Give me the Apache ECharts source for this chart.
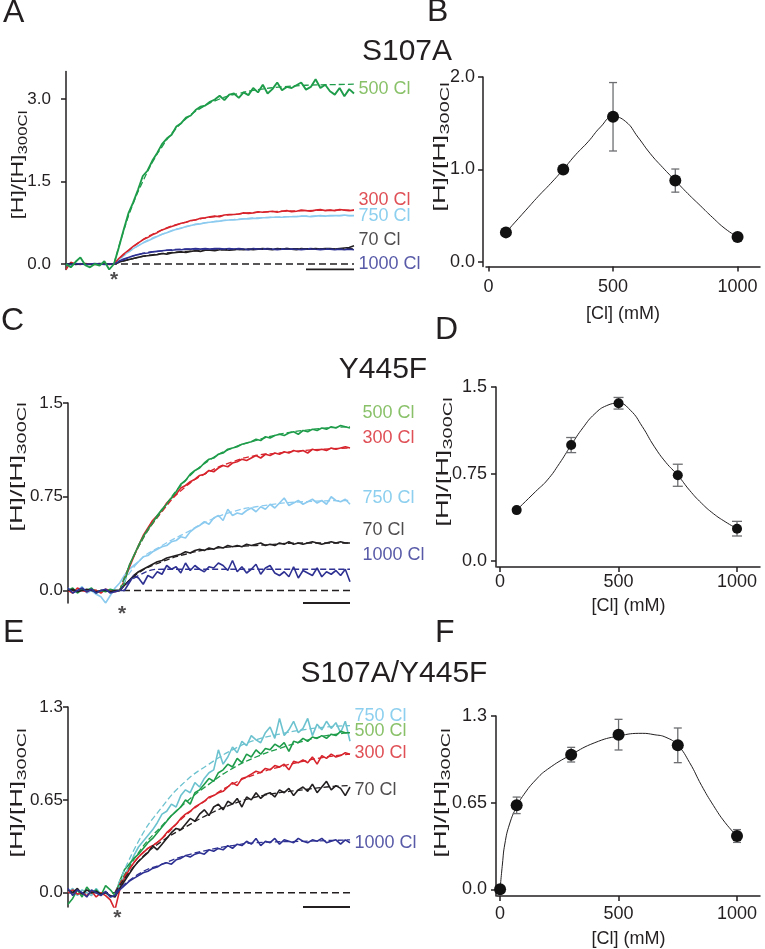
<!DOCTYPE html>
<html><head><meta charset="utf-8">
<script src="https://cdn.jsdelivr.net/npm/echarts@6/dist/echarts.min.js"></script>
<style>html,body{margin:0;padding:0;background:#fff}#c{width:765px;height:949px}</style>
</head><body><div id="c"></div>
<script>
// ---------- Panel A (S107A) traces, one sample per time unit, t = 0..60 ----------
const A500 = [0.0,-0.06,0.04,0.12,-0.02,-0.06,0.0,-0.03,0.05,-0.1,0.0,
 0.3,0.62,0.92,1.12,1.35,1.6,1.7,1.88,2.02,2.18,2.28,2.35,2.5,2.56,2.66,2.7,2.8,2.86,2.88,2.95,
 2.99,3.06,2.98,3.08,3.1,3.02,3.12,3.07,3.2,3.12,3.26,3.1,3.18,3.3,3.16,3.22,3.2,3.25,3.3,3.17,
 3.22,3.36,3.2,3.26,3.14,3.08,3.2,3.05,3.18,3.1];
const A300 = [-0.1,0.03,0.0,-0.01,0.01,0.0,-0.01,0.0,0.01,-0.01,0.0,
 0.1,0.18,0.25,0.32,0.38,0.44,0.48,0.53,0.57,0.62,0.65,0.68,0.71,0.74,0.76,0.79,0.8,0.83,0.84,0.86,
 0.87,0.86,0.89,0.9,0.9,0.91,0.93,0.92,0.93,0.95,0.94,0.95,0.96,0.94,0.96,0.97,0.95,0.96,0.98,0.97,
 0.96,0.98,0.99,0.97,0.98,0.97,0.99,0.98,0.97,0.98];
const A750 = [0.0,-0.02,0.0,0.01,-0.01,0.0,0.0,-0.01,0.01,0.0,0.0,
 0.08,0.15,0.22,0.28,0.33,0.38,0.42,0.46,0.5,0.54,0.57,0.6,0.63,0.65,0.68,0.7,0.72,0.73,0.75,0.76,
 0.77,0.78,0.79,0.8,0.8,0.81,0.82,0.82,0.83,0.83,0.84,0.84,0.85,0.85,0.85,0.86,0.86,0.86,0.87,0.87,
 0.86,0.87,0.88,0.87,0.88,0.88,0.88,0.89,0.88,0.88];
const A70 = [0.0,0.01,-0.01,0.0,0.0,-0.01,0.0,0.01,0.0,0.0,0.0,
 0.03,0.06,0.08,0.1,0.12,0.14,0.15,0.16,0.17,0.19,0.18,0.2,0.21,0.22,0.21,0.23,0.24,0.23,0.25,0.25,
 0.24,0.26,0.26,0.25,0.26,0.27,0.26,0.27,0.26,0.27,0.28,0.27,0.26,0.28,0.27,0.28,0.27,0.26,0.28,0.27,
 0.27,0.28,0.27,0.28,0.28,0.27,0.28,0.29,0.3,0.33];
const A1000 = [0.0,-0.01,0.01,0.0,-0.01,0.0,0.01,0.0,-0.01,0.0,0.0,
 0.05,0.09,0.12,0.15,0.17,0.19,0.2,0.22,0.23,0.24,0.25,0.25,0.26,0.26,0.27,0.27,0.28,0.27,0.28,0.27,
 0.28,0.28,0.27,0.28,0.27,0.28,0.27,0.26,0.28,0.27,0.27,0.28,0.27,0.26,0.27,0.28,0.27,0.27,0.26,0.27,
 0.28,0.27,0.26,0.27,0.27,0.26,0.27,0.26,0.27,0.26];
const A500fit = [[10,0],[12,0.6],[14,1.1],[16,1.5],[18,1.85],[20,2.13],[22,2.37],[25,2.64],[28,2.83],[32,3.0],[36,3.1],[40,3.17],[45,3.22],[50,3.25],[55,3.26],[60,3.27]];
const A300fit = [[10,0],[15,0.38],[20,0.62],[25,0.76],[30,0.85],[35,0.9],[40,0.94],[50,0.97],[60,0.98]];
const A750fit = [[10,0],[15,0.33],[20,0.54],[25,0.68],[30,0.76],[35,0.81],[40,0.84],[50,0.87],[60,0.88]];
const A70fit = [[10,0],[15,0.12],[20,0.19],[25,0.23],[30,0.25],[40,0.27],[50,0.28],[60,0.28]];
const A1000fit = [[10,0],[15,0.17],[20,0.24],[25,0.27],[30,0.27],[60,0.27]];

// ---------- Panel C (Y445F) traces ----------
const C500 = [0.0,0.02,-0.02,0.01,0.0,0.02,-0.02,0.0,-0.01,0.01,0.0,0.0,
 0.06,0.2,0.28,0.36,0.43,0.49,0.54,0.6,0.65,0.69,0.74,0.79,0.85,0.88,0.93,0.96,0.98,1.02,1.05,1.06,
 1.09,1.1,1.13,1.14,1.15,1.17,1.18,1.19,1.21,1.2,1.23,1.22,1.24,1.25,1.24,1.26,1.27,1.25,1.28,1.27,
 1.29,1.28,1.3,1.29,1.31,1.3,1.32,1.31,1.3];
const C300 = [0.0,-0.02,0.02,0.0,-0.01,0.01,0.0,-0.02,0.01,0.0,-0.01,0.0,
 0.08,0.18,0.27,0.36,0.44,0.5,0.56,0.6,0.64,0.7,0.74,0.77,0.82,0.84,0.87,0.89,0.92,0.93,0.96,0.95,
 0.98,1.0,0.99,1.02,1.03,1.05,1.04,1.06,1.08,1.06,1.09,1.08,1.1,1.09,1.11,1.1,1.12,1.11,1.12,1.1,
 1.13,1.12,1.13,1.12,1.14,1.13,1.14,1.15,1.14];
const C750 = [0.02,-0.02,0.0,0.03,-0.02,0.0,-0.03,-0.05,-0.1,-0.04,0.02,0.06,
 0.12,0.17,0.2,0.23,0.27,0.28,0.31,0.33,0.35,0.36,0.39,0.4,0.43,0.42,0.47,0.5,0.52,0.55,0.53,0.58,
 0.6,0.56,0.65,0.6,0.62,0.61,0.64,0.66,0.63,0.67,0.65,0.69,0.66,0.7,0.74,0.68,0.7,0.72,0.69,0.71,
 0.73,0.7,0.72,0.69,0.75,0.72,0.71,0.73,0.69];
const C70 = [0.0,0.01,-0.01,0.0,0.01,0.0,-0.01,0.0,0.0,-0.01,0.0,0.0,
 0.04,0.08,0.12,0.15,0.17,0.19,0.21,0.23,0.24,0.26,0.27,0.28,0.29,0.31,0.3,0.32,0.33,0.32,0.34,0.33,
 0.35,0.34,0.36,0.35,0.36,0.35,0.37,0.36,0.37,0.38,0.36,0.37,0.36,0.38,0.37,0.39,0.37,0.38,0.37,0.38,
 0.39,0.38,0.37,0.38,0.39,0.38,0.39,0.38,0.38];
const C1000 = [0.02,-0.02,0.0,0.02,-0.01,0.01,-0.02,0.0,0.01,-0.02,-0.01,0.0,
 0.0,0.06,0.12,0.1,0.05,0.12,0.1,0.15,0.13,0.2,0.17,0.19,0.14,0.22,0.16,0.2,0.17,0.15,0.19,0.18,
 0.22,0.2,0.16,0.24,0.15,0.19,0.14,0.17,0.21,0.13,0.18,0.2,0.14,0.12,0.15,0.11,0.19,0.1,0.16,0.14,
 0.12,0.18,0.11,0.15,0.13,0.16,0.12,0.17,0.07];
const C500fit = [[11,0],[15,0.35],[20,0.64],[25,0.88],[30,1.04],[35,1.14],[40,1.2],[45,1.25],[50,1.28],[55,1.3],[60,1.31]];
const C300fit = [[11,0],[15,0.35],[20,0.63],[25,0.83],[30,0.95],[35,1.03],[40,1.08],[45,1.1],[50,1.12],[60,1.14]];
const C750fit = [[11,0],[15,0.23],[20,0.36],[25,0.46],[30,0.56],[35,0.63],[40,0.67],[50,0.71],[60,0.72]];
const C70fit = [[11,0],[15,0.14],[20,0.23],[25,0.29],[30,0.33],[35,0.35],[40,0.36],[50,0.38],[60,0.38]];
const C1000fit = [[11,0],[15,0.12],[20,0.17],[25,0.17],[60,0.17]];

// ---------- Panel E (S107A/Y445F) traces ----------
const E750 = [0.0,0.03,-0.02,0.02,0.0,-0.02,0.03,-0.01,0.0,-0.03,-0.02,
 0.05,0.12,0.18,0.26,0.32,0.36,0.4,0.44,0.49,0.55,0.57,0.62,0.6,0.68,0.72,0.7,0.77,0.74,0.8,0.84,
 0.86,1.0,0.9,0.95,1.02,0.98,1.06,1.03,1.1,1.07,1.05,1.12,1.16,1.08,1.22,1.1,1.14,1.2,1.12,1.15,
 1.22,1.1,1.18,1.14,1.2,1.15,1.19,1.12,1.2,1.06];
const E500 = [-0.08,-0.04,0.02,-0.03,0.04,0.0,0.02,-0.02,0.05,0.02,-0.02,
 0.08,0.16,0.2,0.24,0.27,0.31,0.35,0.38,0.42,0.46,0.5,0.54,0.57,0.6,0.65,0.62,0.7,0.72,0.76,0.8,
 0.78,0.84,0.86,0.9,0.88,0.94,0.91,0.97,0.95,1.0,0.97,1.01,1.0,1.04,1.02,1.05,0.99,1.06,1.05,1.08,
 1.06,1.09,1.08,1.1,1.08,1.11,1.1,1.13,1.12,1.12];
const E300 = [0.0,0.02,-0.01,0.0,-0.02,0.01,-0.03,0.0,-0.02,-0.05,-0.12,
 0.02,0.1,0.16,0.21,0.25,0.28,0.31,0.33,0.35,0.38,0.42,0.45,0.48,0.52,0.55,0.57,0.6,0.62,0.64,0.67,
 0.68,0.7,0.71,0.74,0.77,0.75,0.8,0.81,0.83,0.85,0.84,0.87,0.86,0.89,0.88,0.9,0.86,0.92,0.91,0.93,
 0.91,0.95,0.9,0.96,0.94,0.97,0.95,0.96,0.98,0.97];
const E70 = [0.02,0.0,0.03,-0.01,0.02,0.0,0.01,-0.01,0.0,-0.02,-0.03,
 0.03,0.08,0.13,0.18,0.22,0.25,0.28,0.33,0.3,0.34,0.38,0.42,0.45,0.44,0.48,0.52,0.5,0.55,0.58,0.54,
 0.6,0.62,0.58,0.64,0.62,0.66,0.6,0.67,0.65,0.7,0.66,0.69,0.7,0.67,0.72,0.7,0.73,0.68,0.72,0.74,
 0.71,0.76,0.7,0.74,0.78,0.72,0.75,0.73,0.68,0.74];
const E1000 = [0.03,-0.02,0.02,0.0,-0.03,0.02,0.0,-0.02,0.01,-0.03,-0.02,
 0.02,0.05,0.08,0.1,0.12,0.14,0.15,0.17,0.18,0.2,0.21,0.2,0.23,0.24,0.26,0.25,0.27,0.28,0.27,0.3,
 0.29,0.31,0.3,0.33,0.31,0.34,0.33,0.36,0.34,0.38,0.33,0.36,0.35,0.38,0.34,0.37,0.36,0.35,0.38,0.36,
 0.35,0.37,0.36,0.38,0.35,0.36,0.37,0.34,0.37,0.35];
const E750fit = [[10,0],[15,0.36],[20,0.6],[25,0.78],[30,0.9],[35,1.0],[40,1.07],[45,1.11],[50,1.14],[55,1.16],[60,1.17]];
const E500fit = [[10,0],[15,0.28],[20,0.47],[25,0.63],[30,0.76],[35,0.87],[40,0.95],[45,1.01],[50,1.06],[55,1.1],[60,1.12]];
const E300fit = [[10,0],[15,0.25],[20,0.38],[25,0.54],[30,0.66],[35,0.76],[40,0.83],[45,0.88],[50,0.92],[55,0.95],[60,0.97]];
const E70fit = [[10,0],[15,0.22],[20,0.36],[25,0.46],[30,0.55],[35,0.62],[40,0.67],[45,0.7],[50,0.72],[55,0.74],[60,0.75]];
const E1000fit = [[10,0],[15,0.13],[20,0.2],[25,0.26],[30,0.3],[35,0.33],[40,0.35],[50,0.36],[60,0.37]];

// trace labels
const labelsAC = ['500 Cl','300 Cl','750 Cl','70 Cl','1000 Cl'];
const labelsE = ['750 Cl','500 Cl','300 Cl','70 Cl','1000 Cl'];
const titles = ['S107A','Y445F','S107A/Y445F'];
const panelLetters = ['A','B','C','D','E','F'];

// stimulus marker time and scale bar span (time units)
const starT = [10, 11.5, 10.5];
const scaleBar = [50, 60];

// ---------- Dose-response panels ----------
const clB = [70,300,500,750,1000];
const B_mean = [0.32,1.0,1.57,0.88,0.27];
const B_err = [0,0,0.37,0.125,0];
const B_fitX = [70,150,200,250,300,350,400,450,500,550,600,650,700,750,800,850,900,950,1000];
const B_fitY = [0.32,0.56,0.71,0.85,1.0,1.16,1.3,1.46,1.57,1.52,1.35,1.17,1.02,0.88,0.74,0.61,0.48,0.36,0.27];

const clD = [70,300,500,750,1000];
const D_mean = [0.44,1.0,1.36,0.74,0.28];
const D_err = [0,0.065,0.05,0.095,0.063];
const D_fitX = [70,150,200,250,300,350,400,450,500,550,600,650,700,750,800,850,900,950,1000];
const D_fitY = [0.44,0.6,0.7,0.84,1.0,1.15,1.27,1.34,1.36,1.3,1.16,0.99,0.85,0.74,0.61,0.5,0.41,0.34,0.28];

const clF = [0,70,300,500,750,1000];
const F_mean = [0,0.63,1.01,1.16,1.08,0.4];
const F_err = [0,0.062,0.055,0.115,0.13,0.048];
const F_fitX = [0,10,20,40,70,100,150,200,300,400,500,600,650,700,750,800,850,900,950,1000];
const F_fitY = [0,0.19,0.34,0.49,0.62,0.71,0.82,0.9,1.01,1.1,1.15,1.17,1.16,1.14,1.08,0.95,0.78,0.63,0.5,0.4];

// tick values / labels
const yTicksA = [0,1.5,3.0], yTextA = ['0.0','1.5','3.0'];
const yTicksB = [0,1,2], yTextB = ['0.0','1.0','2.0'];
const yTicksCD = [0,0.75,1.5], yTextCD = ['0.0','0.75','1.5'];
const yTicksEF = [0,0.65,1.3], yTextEF = ['0.0','0.65','1.3'];
const xTicksCl = [0,500,1000], xTextCl = ['0','500','1000'];

// ================= build =================
const FONT = '"Liberation Sans", Arial, sans-serif';
const INK = '#231f20';
const C = {g:'#1e9c4a', r:'#d7242c', lb:'#8ccbef', k:'#231f20', db:'#2e3192', teal:'#6cc2cf'};
const LC = {g:'#6cb244', r:'#d7242c', lb:'#6fc3ea', k:'#231f20', db:'#2e3192'};

const grids = [
  {left:66, top:71.5, width:288, height:198},
  {left:486, top:77, width:274, height:189.6},
  {left:68, top:403, width:282, height:200},
  {left:497, top:387, width:263, height:180},
  {left:68, top:707, width:282, height:200},
  {left:497, top:716, width:263, height:181}
];
const yRange = [[-0.1,3.5],[-0.05,2.0],[-0.1,1.5],[-0.05,1.5],[-0.1,1.3],[-0.05,1.3]];
const yTicks = [[yTicksA,yTextA],[yTicksB,yTextB],[yTicksCD,yTextCD],[yTicksCD,yTextCD],[yTicksEF,yTextEF],[yTicksEF,yTextEF]];
const yMargin = [15,8,5,9,5,9];
const yOffset = [0,3,0,1,0,1];
const xRange = [null,[-10,1090],null,[-13,1097],null,[-13,1097]];
const xMargin = [0,11,6,6,0,9];
const xNameGap = [0,38,0,30,0,34];

const axisLineStyle = {color:INK, width:1.5};
const xAxes = [], yAxes = [];
grids.forEach((g,i)=>{
  const isTrace = (i%2===0);
  if (isTrace) {
    xAxes.push({gridIndex:i, type:'value', min:0, max:60, show:false});
  } else {
    xAxes.push({gridIndex:i, type:'value', min:xRange[i][0], max:xRange[i][1],
      axisLine:{show:true, onZero:false, lineStyle:axisLineStyle},
      axisTick:{show:true, length:5, customValues:xTicksCl, lineStyle:axisLineStyle},
      axisLabel:{customValues:xTicksCl, margin:xMargin[i], color:INK, fontSize:18, fontFamily:FONT,
        formatter:(v)=>xTextCl[xTicksCl.indexOf(v)]},
      splitLine:{show:false},
      name:'[Cl] (mM)', nameLocation:'middle', nameGap:xNameGap[i],
      nameTextStyle:{color:INK, fontSize:18, fontFamily:FONT, verticalAlign:'top'}});
  }
  const tv = yTicks[i][0], tt = yTicks[i][1];
  yAxes.push({gridIndex:i, type:'value', min:yRange[i][0], max:yRange[i][1], offset:yOffset[i],
    axisLine:{show:true, onZero:false, lineStyle:axisLineStyle},
    axisTick:{show:true, length:5, customValues:tv, lineStyle:axisLineStyle},
    axisLabel:{customValues:tv, margin:yMargin[i], color:INK, fontSize:isTrace?17:18, fontFamily:FONT,
      formatter:(v)=>tt[tv.indexOf(v)]},
    splitLine:{show:false}});
});

const series = [];
const pairs = arr => arr.map((v,i)=>[i,v]);
function trace(gi, arr, color, w) {
  series.push({type:'line', xAxisIndex:gi, yAxisIndex:gi, data:pairs(arr), showSymbol:false, symbol:'none',
    lineStyle:{color, width:w||1.6}, itemStyle:{color}, animation:false, silent:true, z:3});
}
function fit(gi, pts, color) {
  series.push({type:'line', xAxisIndex:gi, yAxisIndex:gi, data:pts, showSymbol:false, symbol:'none', smooth:true,
    lineStyle:{color, width:1.3, type:[6,3]}, animation:false, silent:true, z:4});
}
function baseline(gi, ymin, star) {
  series.push({type:'line', xAxisIndex:gi, yAxisIndex:gi, data:[[0,0],[60,0]], showSymbol:false, symbol:'none',
    lineStyle:{color:INK, width:1.5, type:[7,4]}, animation:false, silent:true, z:2});
  series.push({type:'line', xAxisIndex:gi, yAxisIndex:gi, data:[[scaleBar[0],ymin],[scaleBar[1],ymin]], showSymbol:false, symbol:'none',
    lineStyle:{color:INK, width:2}, animation:false, silent:true, z:2});
  series.push({type:'scatter', xAxisIndex:gi, yAxisIndex:gi, data:[[star,ymin]], symbolSize:1,
    itemStyle:{color:'rgba(0,0,0,0)'}, animation:false, silent:true,
    label:{show:true, position:'bottom', distance:0, formatter:'*', color:INK, fontSize:21, fontWeight:'bold', fontFamily:FONT}});
}
function tlabels(gi, texts, ys, colors, dist) {
  series.push({type:'scatter', xAxisIndex:gi, yAxisIndex:gi, symbolSize:1, animation:false, silent:true,
    itemStyle:{color:'rgba(0,0,0,0)'},
    data:texts.map((t,i)=>({value:[60, ys[i]], label:{show:true, position:'right', distance:dist, formatter:t,
      color:colors[i], fontSize:18, fontFamily:FONT}}))});
}

// Panel A
baseline(0, -0.1, starT[0]);
trace(0, A750, C.lb); trace(0, A300, C.r); trace(0, A70, C.k); trace(0, A1000, C.db); trace(0, A500, C.g, 1.9);
fit(0, A750fit, C.lb); fit(0, A300fit, C.r); fit(0, A70fit, C.k); fit(0, A1000fit, C.db); fit(0, A500fit, C.g);
tlabels(0, labelsAC, [3.18,1.16,0.87,0.44,0.0], [LC.g,LC.r,LC.lb,LC.k,LC.db], 4);

// Panel C
baseline(2, -0.1, starT[1]);
trace(2, C750, C.lb); trace(2, C300, C.r); trace(2, C500, C.g); trace(2, C70, C.k); trace(2, C1000, C.db);
fit(2, C750fit, C.lb); fit(2, C300fit, C.r); fit(2, C500fit, C.g); fit(2, C70fit, C.k); fit(2, C1000fit, C.db);
tlabels(2, labelsAC, [1.42,1.22,0.74,0.48,0.28], [LC.g,LC.r,LC.lb,LC.k,LC.db], 12);

// Panel E
baseline(4, -0.1, starT[2]);
trace(4, E750, C.teal); trace(4, E500, C.g); trace(4, E300, C.r); trace(4, E70, C.k); trace(4, E1000, C.db);
fit(4, E750fit, C.teal); fit(4, E500fit, C.g); fit(4, E300fit, C.r); fit(4, E70fit, C.k); fit(4, E1000fit, C.db);
tlabels(4, labelsE, [1.24,1.13,0.98,0.72,0.35], [LC.lb,LC.g,LC.r,LC.k,LC.db], 4);

// dose-response panels
function dose(gi, xs, ys, es, fx, fy, sym, cap) {
  series.push({type:'line', xAxisIndex:gi, yAxisIndex:gi, data:fx.map((x,i)=>[x,fy[i]]), smooth:true,
    showSymbol:false, symbol:'none', lineStyle:{color:INK, width:1}, animation:false, silent:true, z:2});
  const ed = []; xs.forEach((x,i)=>{ if (es[i]>0) ed.push([x, ys[i]-es[i], ys[i]+es[i]]); });
  series.push({type:'custom', xAxisIndex:gi, yAxisIndex:gi, data:ed, animation:false, silent:true, z:3,
    renderItem:(params, api)=>{
      const p0 = api.coord([api.value(0), api.value(1)]);
      const p1 = api.coord([api.value(0), api.value(2)]);
      const st = {stroke:'#6d6e71', lineWidth:1.3};
      return {type:'group', children:[
        {type:'line', shape:{x1:p0[0],y1:p0[1],x2:p1[0],y2:p1[1]}, style:st},
        {type:'line', shape:{x1:p0[0]-cap,y1:p0[1],x2:p0[0]+cap,y2:p0[1]}, style:st},
        {type:'line', shape:{x1:p1[0]-cap,y1:p1[1],x2:p1[0]+cap,y2:p1[1]}, style:st}
      ]};
    }});
  series.push({type:'scatter', xAxisIndex:gi, yAxisIndex:gi, data:xs.map((x,i)=>[x,ys[i]]), symbolSize:sym,
    itemStyle:{color:'#111111', opacity:1}, animation:false, silent:true, z:5});
}
dose(1, clB, B_mean, B_err, B_fitX, B_fitY, 12, 4);
dose(3, clD, D_mean, D_err, D_fitX, D_fitY, 10, 5);
dose(5, clF, F_mean, F_err, F_fitX, F_fitY, 12, 4);

// graphic texts: letters, titles, y axis names
const graphic = [];
const letterPos = [[3,13.5],[427,12.5],[1,321],[435,330],[3,633],[435,633]];
panelLetters.forEach((t,i)=>graphic.push({type:'text', x:letterPos[i][0], y:letterPos[i][1],
  style:{text:t, fontSize:32, fontFamily:FONT, fill:INK, align:'left', verticalAlign:'middle'}}));
const titlePos = [[407,52],[383,370],[394,674]];
titles.forEach((t,i)=>graphic.push({type:'text', x:titlePos[i][0], y:titlePos[i][1],
  style:{text:t, fontSize:30, fontFamily:FONT, fill:INK, align:'center', verticalAlign:'middle'}}));
const ynamePos = [[18,165,1.35],[440,147,1.6],[17,467,1.6],[443,462,1.6],[17,793,1.6],[441,793,1.6]];
ynamePos.forEach(p=>graphic.push({type:'text', x:p[0], y:p[1], rotation:Math.PI/2, scaleX:p[2],
  style:{text:'{m|[H]/[H]}{s|300Cl}', align:'center', verticalAlign:'middle', fill:INK, fontFamily:FONT,
    rich:{m:{fontSize:17, fontFamily:FONT, fill:INK, lineHeight:24, verticalAlign:'middle'},
          s:{fontSize:12.5, fontFamily:FONT, fill:INK, lineHeight:13, verticalAlign:'bottom'}}}}));

const chart = echarts.init(document.getElementById('c'));
chart.setOption({
  backgroundColor:'#ffffff', animation:false,
  grid:grids, xAxis:xAxes, yAxis:yAxes, series, graphic
});
</script>
</body></html>
